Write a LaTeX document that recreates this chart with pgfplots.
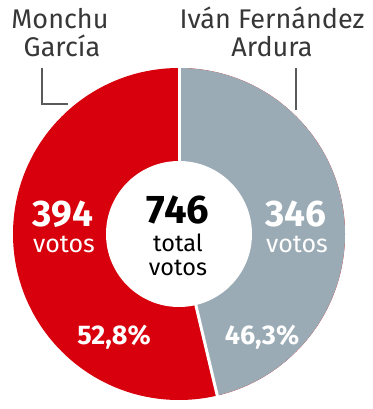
\documentclass[border=0pt]{standalone}
\usepackage{pgfplots}
\pgfplotsset{compat=1.18}
\usepackage{pgfplotstable}
\usepackage{fontspec}
\setmainfont{Fira Sans}
\definecolor{redA}{RGB}{216,0,12}
\definecolor{grayA}{RGB}{155,171,181}
\definecolor{labelgray}{RGB}{55,55,55}
\definecolor{linegray}{RGB}{90,90,90}
\pgfplotstableread{
name votes pct
Monchu 394 52.8
Ivan 346 46.3
}\datatable
\pgfplotstablegetelem{0}{pct}\of\datatable \let\rpct\pgfplotsretval
\pgfplotstablegetelem{1}{pct}\of\datatable \let\gpct\pgfplotsretval
\pgfplotstablegetelem{0}{votes}\of\datatable \let\rvotes\pgfplotsretval
\pgfplotstablegetelem{1}{votes}\of\datatable \let\gvotes\pgfplotsretval
\pgfmathsetmacro\gend{90-3.6*\gpct}
\begin{document}
\begin{tikzpicture}[every node/.style={inner sep=0pt}]
\begin{axis}[
  width=372pt, height=409pt, scale only axis,
  xmin=0, xmax=372, ymin=0, ymax=409,
  hide axis, clip=false,
]
\addplot[draw=none] coordinates {(0,0) (372,409)};
% red: full disc, remainder
\fill[redA] (axis cs:179,175) circle[radius=166pt];
% gray slice
\fill[grayA] (axis cs:179,175) -- ++(90:166pt) arc[start angle=90, end angle=\gend, radius=166pt] -- cycle;
% hole
\fill[white] (axis cs:179,175) circle[radius=73pt];
% separators
\draw[white, line width=3pt] (axis cs:179,175) ++(90:72pt) -- ++(90:96pt);
\draw[white, line width=3pt] (axis cs:179,175) ++(\gend:72pt) -- ++(\gend:96pt);
% leader lines
\draw[linegray, line width=1.1pt] (axis cs:42,341) -- (axis cs:42,305) -- (axis cs:68,305);
\draw[linegray, line width=1.1pt] (axis cs:296,341) -- (axis cs:296,299);
% names
\node[anchor=base, text=labelgray, font=\fontsize{27}{29}\selectfont] at (axis cs:60,380) {Monchu};
\node[anchor=base, text=labelgray, font=\fontsize{27}{29}\selectfont] at (axis cs:62,352) {García};
\node[anchor=base, text=labelgray, font=\fontsize{27}{29}\selectfont] at (axis cs:272,380) {Iván Fernández};
\node[anchor=base, text=labelgray, font=\fontsize{27}{29}\selectfont] at (axis cs:272,352) {Ardura};
% numbers
\node[anchor=base, text=white, font=\bfseries\fontsize{37}{39}\selectfont] at (axis cs:63,182) {\rvotes};
\node[anchor=base, text=white, font=\fontsize{25}{27}\selectfont] at (axis cs:64,156) {votos};
\node[anchor=base, text=white, font=\bfseries\fontsize{37}{39}\selectfont] at (axis cs:296,182) {\gvotes};
\node[anchor=base, text=white, font=\fontsize{25}{27}\selectfont] at (axis cs:297,156) {votos};
\node[anchor=base, text=black, font=\bfseries\fontsize{40}{42}\selectfont] at (axis cs:178,185) {746};
\node[anchor=base, text=black, text height=17pt, text depth=0pt, font=\fontsize{23.5}{25}\selectfont] at (axis cs:178,157) {total};
\node[anchor=base, text=black, text height=14pt, text depth=0pt, font=\fontsize{23.5}{25}\selectfont] at (axis cs:178,133) {votos};
\node[anchor=base, text=white, font=\bfseries\fontsize{27}{29}\selectfont] at (axis cs:114,64) {52,8\%};
\node[anchor=base, text=white, font=\bfseries\fontsize{27}{29}\selectfont] at (axis cs:262,64) {46,3\%};
\end{axis}
\end{tikzpicture}
\end{document}
